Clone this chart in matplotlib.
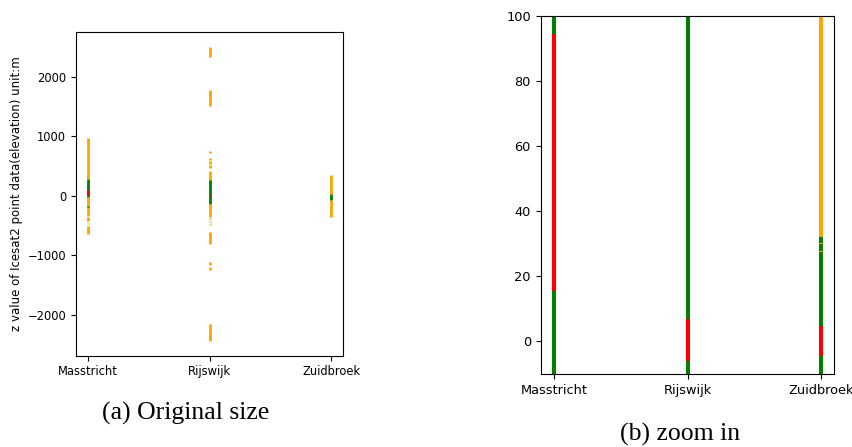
import matplotlib
matplotlib.use("Agg")
import matplotlib.pyplot as plt

sites = ['Masstricht', 'Rijswijk', 'Zuidbroek']

# (site index, low z, high z) for each run of points, per class colour
orange_segments = [
    (0, 280, 980), (0, -340, -20), (0, -425, -365), (0, -480, -450), (0, -640, -505),
    (1, 2340, 2510), (1, 1510, 1780), (1, 715, 745), (1, 600, 640), (1, 540, 580),
    (1, 461, 520), (1, 252, 420), (1, -355, -140), (1, -390, -370), (1, -440, -420),
    (1, -495, -470), (1, -813, -606), (1, -1170, -1120), (1, -1250, -1200),
    (1, -2450, -2160),
    (2, 32.2, 348), (2, -353, -72),
]
green_segments = [
    (0, -20, 280), (0, -185, -165),
    (1, -140, 264),
    (2, -72, 32.2),
]
red_segments = [
    (0, 15.5, 94.5),
    (1, -6, 7),
    (2, -4.6, 4.6),
]
# thin orange bits that sit on top of the green runs
orange_marks = [
    (2, 30.0, 30.4), (2, 27.4, 27.8),
]

W, H = 853, 447
fig = plt.figure(figsize=(W / 100, H / 100), dpi=100)

ax1 = fig.add_axes([76 / W, 1 - 355.7 / H, (343.3 - 76) / W, (355.7 - 31.7) / H])
ax2 = fig.add_axes([540.7 / W, 1 - 374 / H, (834.3 - 540.7) / W, (374 - 16) / H])


def draw(ax, lw):
    for segs, col in [(orange_segments, 'orange'), (green_segments, 'green'),
                      (red_segments, 'red'), (orange_marks, 'orange')]:
        xs = [s[0] for s in segs]
        lo = [s[1] for s in segs]
        hi = [s[2] for s in segs]
        ax.vlines(xs, lo, hi, colors=col, lw=lw)
    ax.set_xticks(range(len(sites)))
    ax.set_xlim(-0.1, 2.1)


draw(ax1, 2.0)
ax1.set_ylim(-2690, 2760)
ax1.set_yticks([-2000, -1000, 0, 1000, 2000])
ax1.set_xticklabels(sites, fontsize=8.3)
ax1.tick_params(axis='y', labelsize=8.3)

draw(ax2, 2.9)
ax2.set_ylim(-10, 100)
ax2.set_yticks([0, 20, 40, 60, 80, 100])
ax2.set_xticklabels(sites, fontsize=9.3)
ax2.tick_params(axis='y', labelsize=9.3)

fig.text(17 / W, 1 - 194 / H, 'z value of Icesat2 point data(elevation) unit:m',
         rotation=90, ha='center', va='center', fontsize=8.5)

fig.text(186 / W, 1 - 413 / H, '(a) Original size', ha='center', va='center',
         family='Liberation Serif', fontsize=18.5)
fig.text(680 / W, 1 - 434 / H, '(b) zoom in', ha='center', va='center',
         family='Liberation Serif', fontsize=18.5)

fig.savefig('out.png', dpi=100)
